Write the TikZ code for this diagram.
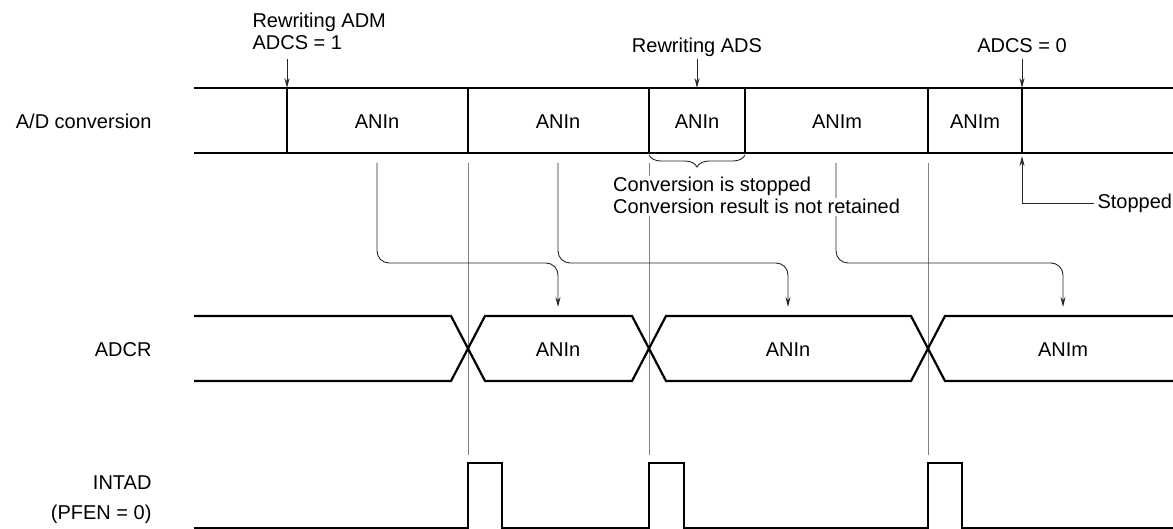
\documentclass[tikz,border=0pt]{standalone}
\usepackage{fontspec}
\setmainfont{Liberation Sans}
\usetikzlibrary{arrows.meta,decorations.pathreplacing}

\begin{document}
\begin{tikzpicture}[x=1pt,y=-1pt,
    font=\fontsize{20}{22}\selectfont,
    wave/.style={line width=2.2pt},
    guide/.style={line width=0.9pt,color=black!50},
    route/.style={line width=0.9pt,color=black!85,rounded corners=12pt,-{Stealth[length=10pt,width=5pt]}},
    pointer/.style={line width=0.9pt,color=black!85,-{Stealth[length=10pt,width=5pt]}},
    lbl/.style={anchor=base east},
    txt/.style={anchor=base}]
      \useasboundingbox (0,0) rectangle (1173,529);
      \node [lbl] (AD) at (155,129) {A/D conversion};
      \node [lbl] (ADCR) at (155,356) {ADCR};
      \node [lbl] (INTAD) at (155,489) {INTAD};
      \node [lbl] (PFEN) at (155,519) {(PFEN = 0)};
%%
      \coordinate (M0) at (287,88);
      \coordinate (MS) at (697,88);
      \coordinate (M5) at (1022,88);
      \draw [wave] (194,88) -- (1173,88);
      \draw [wave] (194,153) -- (1173,153);
      \foreach \x in {287,468,649,745,928,1022}
        \draw [wave] (\x,88) -- (\x,153);
      \node [txt] (C1) at (377,129) {ANIn};
      \node [txt] (C2) at (558,129) {ANIn};
      \node [txt] (C3) at (697,129) {ANIn};
      \node [txt] (C4) at (837,129) {ANIm};
      \node [txt] (C5) at (975,129) {ANIm};
%%
      \node [anchor=base west] (RADM) at (249,28) {Rewriting ADM};
      \node [anchor=base west] (ADCS1) at (249,50) {ADCS = 1};
      \node [txt] (RADS) at (697,53) {Rewriting ADS};
      \node [txt] (ADCS0) at (1022,53) {ADCS = 0};
      \draw [pointer] (M0) ++(0,-29) -- (M0);
      \draw [pointer] (MS) ++(0,-29) -- (MS);
      \draw [pointer] (M5) ++(0,-29) -- (M5);
%%
      \node [txt] (D1) at (558,356) {ANIn};
      \node [txt] (D2) at (788,356) {ANIn};
      \node [txt] (D3) at (1063,356) {ANIm};
      \foreach \x in {468,649,928}
        \draw [guide] (\x,163) -- (\x,455);
      \draw [route] (C1 |- 0,163) |- (D1 |- 0,263) -- (D1 |- 0,307);
      \draw [route] (C2 |- 0,163) |- (D2 |- 0,263) -- (D2 |- 0,307);
      \draw [route] (836,163) |- (D3 |- 0,263) -- (D3 |- 0,307);
      \draw [line width=0.9pt,color=black!85,decorate,decoration={brace,mirror,amplitude=12pt}] (649,155) -- (745,155);
      \node [anchor=base west,fill=white,inner sep=2pt] (STOP1) at (611,192) {Conversion is stopped};
      \node [anchor=base west,fill=white,inner sep=2pt] (STOP2) at (611,214) {Conversion result is not retained};
      \node [anchor=base west] (STP) at (1094,209) {Stopped};
      \draw [pointer] (STP.west) -| (M5 |- 0,156);
%%
      \draw [wave] (194,316) -- (451,316) -- (485,381) -- (632,381) -- (666,316) -- (911,316) -- (945,381) -- (1173,381);
      \draw [wave] (194,381) -- (451,381) -- (485,316) -- (632,316) -- (666,381) -- (911,381) -- (945,316) -- (1173,316);
      \draw [wave] (194,528) -- (468,528) -- (468,463) -- (502,463) -- (502,528) -- (649,528) -- (649,463) -- (684,463) -- (684,528)
        -- (928,528) -- (928,463) -- (962,463) -- (962,528) -- (1173,528);
    \end{tikzpicture}
\end{document}
